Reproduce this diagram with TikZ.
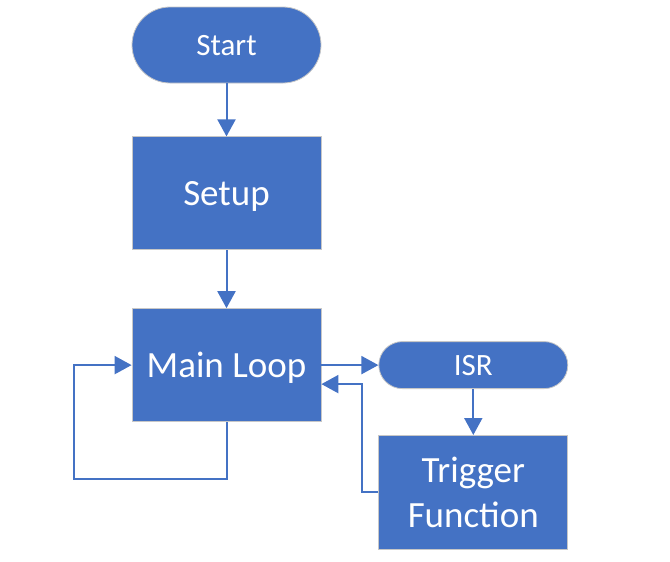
\documentclass[tikz,border=0pt]{standalone}
\usepackage{fontspec}
\setmainfont{Carlito}
\usetikzlibrary{positioning, arrows.meta}
\definecolor{officeblue}{HTML}{4472C4}
\tikzset{>={Triangle[width=18pt,length=17pt]},
         link/.style={->, line width=2pt, draw=officeblue},
         block/.style={rectangle, fill=officeblue, draw=black!22, line width=0.8pt,
                       minimum width=189pt, minimum height=113pt, text=white,
                       font=\fontsize{37pt}{45pt}\selectfont, align=center},
         pill/.style={rectangle, fill=officeblue, draw=black!22, line width=0.8pt,
                      minimum width=189pt, text=white, text depth=0pt,
                      font=\fontsize{31pt}{37pt}\selectfont},
         }

\begin{document}
\begin{tikzpicture}
    \useasboundingbox (0,0) rectangle (670pt,-562pt);
    \node[pill, minimum height=76pt, rounded corners=38pt] (start) at (226.5pt,-45pt) {Start};
    \node[block, text depth=0pt, below=53pt of start] (setup) {Setup};
    \node[block, text depth=0pt, below=58pt of setup] (mainloop) {Main Loop};
    \node[pill, minimum height=47pt, rounded corners=23.5pt, right=57pt of mainloop] (isr) {ISR};
    \node[block, minimum height=114pt, below=46pt of isr] (trigger) {Trigger\\Function};

    \draw[link] (start) -- (setup);
    \draw[link] (setup) -- (mainloop);
    \draw[link] (mainloop) -- (isr);
    \draw[link] (isr) -- (trigger);
    \draw[link] (trigger.west) -- ++(-16pt,0) |- ([yshift=-19pt]mainloop.east);
    \draw[link] (mainloop.south) -- ++(0,-57pt) -| ([xshift=-58pt]mainloop.west) -- (mainloop.west);
\end{tikzpicture}
\end{document}
